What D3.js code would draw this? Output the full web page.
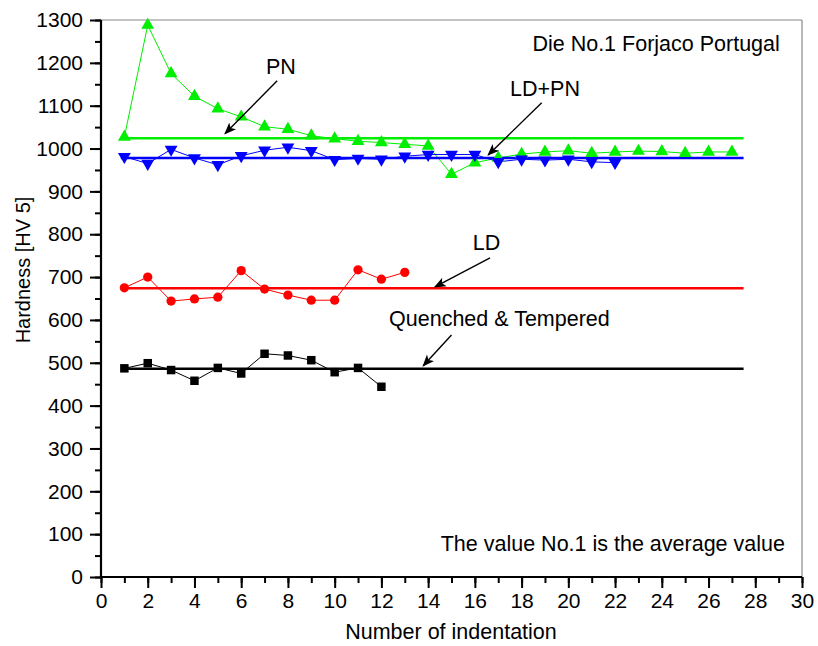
<!DOCTYPE html>
<html>
<head>
<meta charset="utf-8">
<script src="https://cdn.jsdelivr.net/npm/d3@7"></script>
<style>
  html, body { margin: 0; padding: 0; background: #fff; }
  svg { display: block; }
  text { font-family: "Liberation Sans", Arial, sans-serif; fill: #000; }
</style>
</head>
<body>
<svg id="chart" width="818" height="646"></svg>
<script>
// ---------- data ----------
const xTicks = d3.range(0, 31, 2);
const yTicks = d3.range(0, 1301, 100);

const pnX = d3.range(1, 28);
const pnY = [1027, 1288, 1175, 1122, 1093, 1074, 1051, 1045, 1030, 1023, 1017, 1014, 1010, 1006, 940, 967, 978, 987, 992, 995, 989, 992, 994, 993, 989, 992, 992];
const pnAvg = 1024;

const ldpnX = d3.range(1, 23);
const ldpnY = [981, 965, 998, 978, 962, 983, 996, 1003, 995, 974, 977, 975, 982, 986, 986, 986, 969, 975, 973, 975, 969, 967];
const ldpnAvg = 978;

const ldX = d3.range(1, 14);
const ldY = [675, 700, 644, 649, 653, 715, 672, 658, 646, 646, 717, 695, 711];
const ldAvg = 674;

const qtX = d3.range(1, 13);
const qtY = [487, 499, 483, 458, 488, 475, 521, 517, 506, 478, 488, 444];
const qtAvg = 486;

const avgLineX = [0.85, 27.5];

const annotLabels = ["PN", "LD+PN", "LD", "Quenched & Tempered"];
const annotTextPos = [[7.7, 1174], [19.0, 1122], [16.5, 764], [17.05, 585]];
const annotArrowFrom = [[7.54, 1158], [18.86, 1107], [16.65, 745], [15.0, 565]];
const annotArrowTo = [[5.31, 1035], [16.57, 985], [14.29, 677], [13.79, 493]];

const noteTexts = ["Die No.1 Forjaco Portugal", "The value No.1 is the average value"];
const notePos = [[29.05, 1228], [29.27, 60]];

// ---------- layout ----------
const svg = d3.select("#chart");
const L = 101, R = 802, T = 20, B = 577;
const x = d3.scaleLinear().domain([0, 30]).range([L, R]);
const y = d3.scaleLinear().domain([0, 1300]).range([B, T]);
const FS = 21;

// frame top / right
svg.append("line").attr("x1", L).attr("x2", R).attr("y1", T).attr("y2", T)
  .attr("stroke", "#888").attr("stroke-width", 1.2);
svg.append("line").attr("x1", R).attr("x2", R).attr("y1", T).attr("y2", B)
  .attr("stroke", "#888").attr("stroke-width", 1.2);

// minor ticks
const gx = svg.append("g").attr("transform", `translate(0,${B})`);
gx.call(d3.axisBottom(x).tickValues(d3.range(0, 31, 1)).tickSize(6).tickFormat(""))
  .call(g => g.select(".domain").remove())
  .call(g => g.selectAll("line").attr("stroke", "#000").attr("stroke-width", 2));
const gx2 = svg.append("g").attr("transform", `translate(0,${B})`);
gx2.call(d3.axisBottom(x).tickValues(xTicks).tickSize(11).tickPadding(5).tickFormat(d3.format("d")))
  .call(g => g.select(".domain").attr("stroke", "#000").attr("stroke-width", 2.2).attr("d", `M${L},0H${R}`))
  .call(g => g.selectAll("line").attr("stroke", "#000").attr("stroke-width", 2))
  .call(g => g.selectAll("text").attr("font-size", FS));

const gy = svg.append("g").attr("transform", `translate(${L},0)`);
gy.call(d3.axisLeft(y).tickValues(d3.range(0, 1301, 50)).tickSize(6).tickFormat(""))
  .call(g => g.select(".domain").remove())
  .call(g => g.selectAll("line").attr("stroke", "#000").attr("stroke-width", 2));
const gy2 = svg.append("g").attr("transform", `translate(${L},0)`);
gy2.call(d3.axisLeft(y).tickValues(yTicks).tickSize(11).tickPadding(7).tickFormat(d3.format("d")))
  .call(g => g.select(".domain").attr("stroke", "#000").attr("stroke-width", 2.2).attr("d", `M0,${B}V${T}`))
  .call(g => g.selectAll("line").attr("stroke", "#000").attr("stroke-width", 2))
  .call(g => g.selectAll("text").attr("font-size", FS));

// axis titles
svg.append("text").attr("x", 451).attr("y", 639).attr("text-anchor", "middle")
  .attr("font-size", 21.5).text("Number of indentation");
svg.append("text").attr("transform", `translate(30,270) rotate(-90)`)
  .attr("text-anchor", "middle").attr("font-size", 20).text("Hardness [HV 5]");

// ---------- series ----------
const series = [
  { xs: pnX, ys: pnY, avg: pnAvg, color: "#00ee00", marker: "tri" },
  { xs: ldpnX, ys: ldpnY, avg: ldpnAvg, color: "#0000ff", marker: "tridown" },
  { xs: ldX, ys: ldY, avg: ldAvg, color: "#ff0000", marker: "circle" },
  { xs: qtX, ys: qtY, avg: qtAvg, color: "#000000", marker: "square" }
];

const line = d3.line().x(d => x(d[0])).y(d => y(d[1]));

series.forEach(s => {
  const pts = s.xs.map((v, i) => [v, s.ys[i]]);
  svg.append("path").datum(avgLineX.map(v => [v, s.avg]))
    .attr("d", line).attr("stroke", s.color).attr("stroke-width", 2.4).attr("fill", "none");
  svg.append("path").datum(pts).attr("d", line)
    .attr("stroke", s.color).attr("stroke-width", 1).attr("fill", "none");
});

const sym = {
  tri: d3.symbol().type(d3.symbolTriangle).size(72),
  tridown: d3.symbol().type(d3.symbolTriangle).size(72),
  circle: d3.symbol().type(d3.symbolCircle).size(68),
  square: d3.symbol().type(d3.symbolSquare).size(72)
};

series.forEach(s => {
  const pts = s.xs.map((v, i) => [v, s.ys[i]]);
  svg.append("g").selectAll("path").data(pts).join("path")
    .attr("d", sym[s.marker])
    .attr("transform", d => `translate(${x(d[0])},${y(d[1])})` + (s.marker === "tridown" ? " rotate(180)" : ""))
    .attr("fill", s.color);
});

// ---------- annotations ----------
const defs = svg.append("defs");
defs.append("marker").attr("id", "arrow").attr("viewBox", "0 0 10 10")
  .attr("refX", 9).attr("refY", 5).attr("markerWidth", 12).attr("markerHeight", 12)
  .attr("markerUnits", "userSpaceOnUse").attr("orient", "auto")
  .append("path").attr("d", "M0,1 L10,5 L0,9 L2.5,5 Z").attr("fill", "#000");

annotLabels.forEach((lab, i) => {
  svg.append("text").attr("x", x(annotTextPos[i][0])).attr("y", y(annotTextPos[i][1]))
    .attr("text-anchor", "middle").attr("font-size", 21.5).text(lab);
  svg.append("line")
    .attr("x1", x(annotArrowFrom[i][0])).attr("y1", y(annotArrowFrom[i][1]))
    .attr("x2", x(annotArrowTo[i][0])).attr("y2", y(annotArrowTo[i][1]))
    .attr("stroke", "#000").attr("stroke-width", 1.4).attr("marker-end", "url(#arrow)");
});

noteTexts.forEach((t, i) => {
  svg.append("text").attr("x", x(notePos[i][0])).attr("y", y(notePos[i][1]))
    .attr("text-anchor", "end").attr("font-size", 21.5).text(t);
});
</script>
</body>
</html>
